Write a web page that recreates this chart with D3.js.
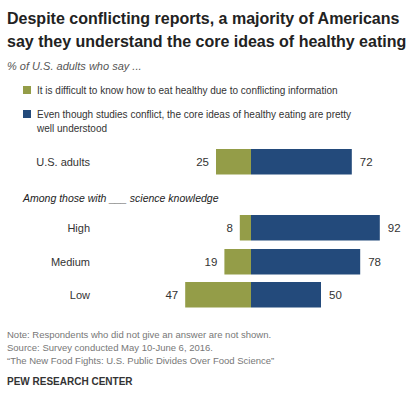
<!DOCTYPE html><html><head><meta charset="utf-8"><script src="https://cdn.jsdelivr.net/npm/d3@7"></script>
<style>body{margin:0;background:#fff}text{font-family:"Liberation Sans",Arial,sans-serif}</style></head><body>
<svg id="c" width="420" height="404"></svg>
<script>
const categories=["U.S. adults","High","Medium","Low"];
const difficult=[25,8,19,47];
const understood=[72,92,78,50];
const seriesNames=["It is difficult to know how to eat healthy due to conflicting information","Even though studies conflict, the core ideas of healthy eating are pretty well understood"];
const colors=["#949d48","#234a7b"];
const svg=d3.select("#c");
const t=(x,y,s,o={})=>svg.append("text").attr("x",x).attr("y",y).text(s).attr("font-size",o.fs||11).attr("fill",o.fill||"#333").attr("font-weight",o.fw||"normal").attr("font-style",o.fst||"normal").attr("text-anchor",o.a||"start");
t(7,24,"Despite conflicting reports, a majority of Americans",{fs:16,fw:"bold",fill:"#222"});
t(7,47,"say they understand the core ideas of healthy eating",{fs:16,fw:"bold",fill:"#222"});
t(7,70,"% of U.S. adults who say ...",{fst:"italic",fill:"#555"});
svg.append("rect").attr("x",23).attr("y",86).attr("width",8).attr("height",8).attr("fill",colors[0]);
t(37,94,seriesNames[0],{fs:10});
svg.append("rect").attr("x",23).attr("y",110).attr("width",8).attr("height",8).attr("fill",colors[1]);
t(37,118,"Even though studies conflict, the core ideas of healthy eating are pretty",{fs:10});
t(37,132,"well understood",{fs:10});
t(23,202,"Among those with ___ science knowledge",{fs:10.5,fst:"italic",fill:"#222"});
const x=d3.scaleLinear().domain([0,100]).range([0,140]);
const cx=251;
const y=d3.scaleOrdinal().domain(categories).range([149,215,249,282]);
const h=25.5;
categories.forEach((c,i)=>{
 const yy=y(c);
 svg.append("rect").attr("x",cx-x(difficult[i])).attr("y",yy).attr("width",x(difficult[i])).attr("height",h).attr("fill",colors[0]);
 svg.append("rect").attr("x",cx).attr("y",yy).attr("width",x(understood[i])).attr("height",h).attr("fill",colors[1]);
 t(90,yy+17,c,{a:"end",fs:11});
 t(cx-x(difficult[i])-7,yy+17,difficult[i],{a:"end",fs:11.5});
 t(cx+x(understood[i])+8,yy+17,understood[i],{fs:11.5});
});
t(7,338,"Note: Respondents who did not give an answer are not shown.",{fs:9.5,fill:"#777"});
t(7,351,"Source: Survey conducted May 10-June 6, 2016.",{fs:9.5,fill:"#777"});
t(7,364,"\u201cThe New Food Fights: U.S. Public Divides Over Food Science\u201d",{fs:9.5,fill:"#777"});
t(7,385,"PEW RESEARCH CENTER",{fs:10,fw:"bold",fill:"#333"});
</script></body></html>
